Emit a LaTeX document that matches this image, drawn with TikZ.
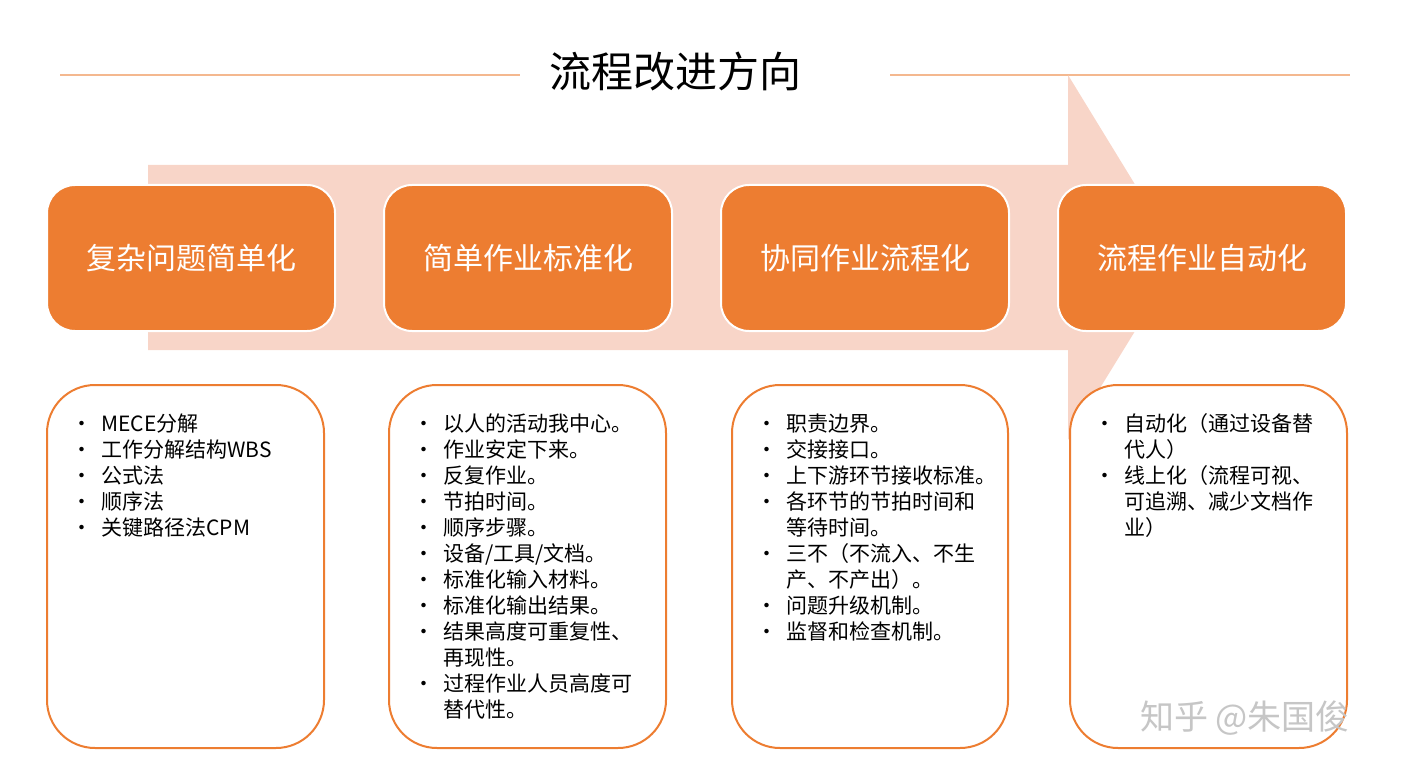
\documentclass[tikz,border=0pt]{standalone}
\usepackage{fontspec}
\setmainfont{Noto Sans CJK SC}
\usetikzlibrary{positioning}
\definecolor{accent}{HTML}{ED7D31}
\definecolor{pale}{HTML}{F8D5C8}
\definecolor{rule}{HTML}{F4B88F}
\newcommand\itm[1]{\makebox[15pt][l]{•}#1\\}
\newcommand\cnt[1]{\hspace*{15pt}#1\\}
\tikzset{
	stage/.style={fill=accent,draw=white,line width=1pt,rounded corners=14pt,minimum width=144pt,minimum height=73pt,text=white,font=\fontsize{15}{18}\selectfont},
	panel/.style={draw=accent,line width=1pt,rounded corners=24pt,fill=white},
	notes/.style={anchor=north west,inner sep=0pt,align=left,font=\fontsize{10.5}{13}\selectfont}
}
\begin{document}
\begin{tikzpicture}[x=0.5pt,y=-0.5pt]
	\useasboundingbox (0,0) rectangle (1412,775);
	
	% title and rules
	\node (title) at (675,72) {\fontsize{21}{24}\selectfont 流程改进方向};
	\draw [rule,line width=0.6pt] (60,75) -- (520,75);
	\draw [rule,line width=0.6pt] (890,75) -- (1350,75);
	
	% big arrow
	\fill [pale] (148,165) -- (1068,165) -- (1068,75) -- (1180,258) -- (1068,440) -- (1068,350) -- (148,350) -- cycle;
	
	% stages
	\node [stage] (S1) at (191,258) {复杂问题简单化};
	\node [stage] (S2) at (528,258) {简单作业标准化};
	\node [stage] (S3) at (865,258) {协同作业流程化};
	\node [stage] (S4) at (1202,258) {流程作业自动化};
	
	% panels
	\draw [panel] (47,385) rectangle (324,748);
	\draw [panel] (389,385) rectangle (666,748);
	\draw [panel] (732,385) rectangle (1008,748);
	\draw [panel] (1070,385) rectangle (1347,748);
	
	\node [notes] (N1) at (71,413) {\itm{MECE分解}\itm{工作分解结构WBS}\itm{公式法}\itm{顺序法}\itm{关键路径法CPM}};
	\node [notes] (N2) at (413,413) {\itm{以人的活动我中心。}\itm{作业安定下来。}\itm{反复作业。}\itm{节拍时间。}\itm{顺序步骤。}\itm{设备/工具/文档。}\itm{标准化输入材料。}\itm{标准化输出结果。}\itm{结果高度可重复性、}\cnt{再现性。}\itm{过程作业人员高度可}\cnt{替代性。}};
	\node [notes] (N3) at (756,413) {\itm{职责边界。}\itm{交接接口。}\itm{上下游环节接收标准。}\itm{各环节的节拍时间和}\cnt{等待时间。}\itm{三不（不流入、不生}\cnt{产、不产出）。}\itm{问题升级机制。}\itm{监督和检查机制。}};
	\node [notes] (N4) at (1094,413) {\itm{自动化（通过设备替}\cnt{代人）}\itm{线上化（流程可视、}\cnt{可追溯、减少文档作}\cnt{业）}};
	
	% watermark
	\node [text=gray!45,font=\fontsize{17}{20}\selectfont] (mark) at (1245,718) {知乎 @朱国俊};
\end{tikzpicture}
\end{document}
